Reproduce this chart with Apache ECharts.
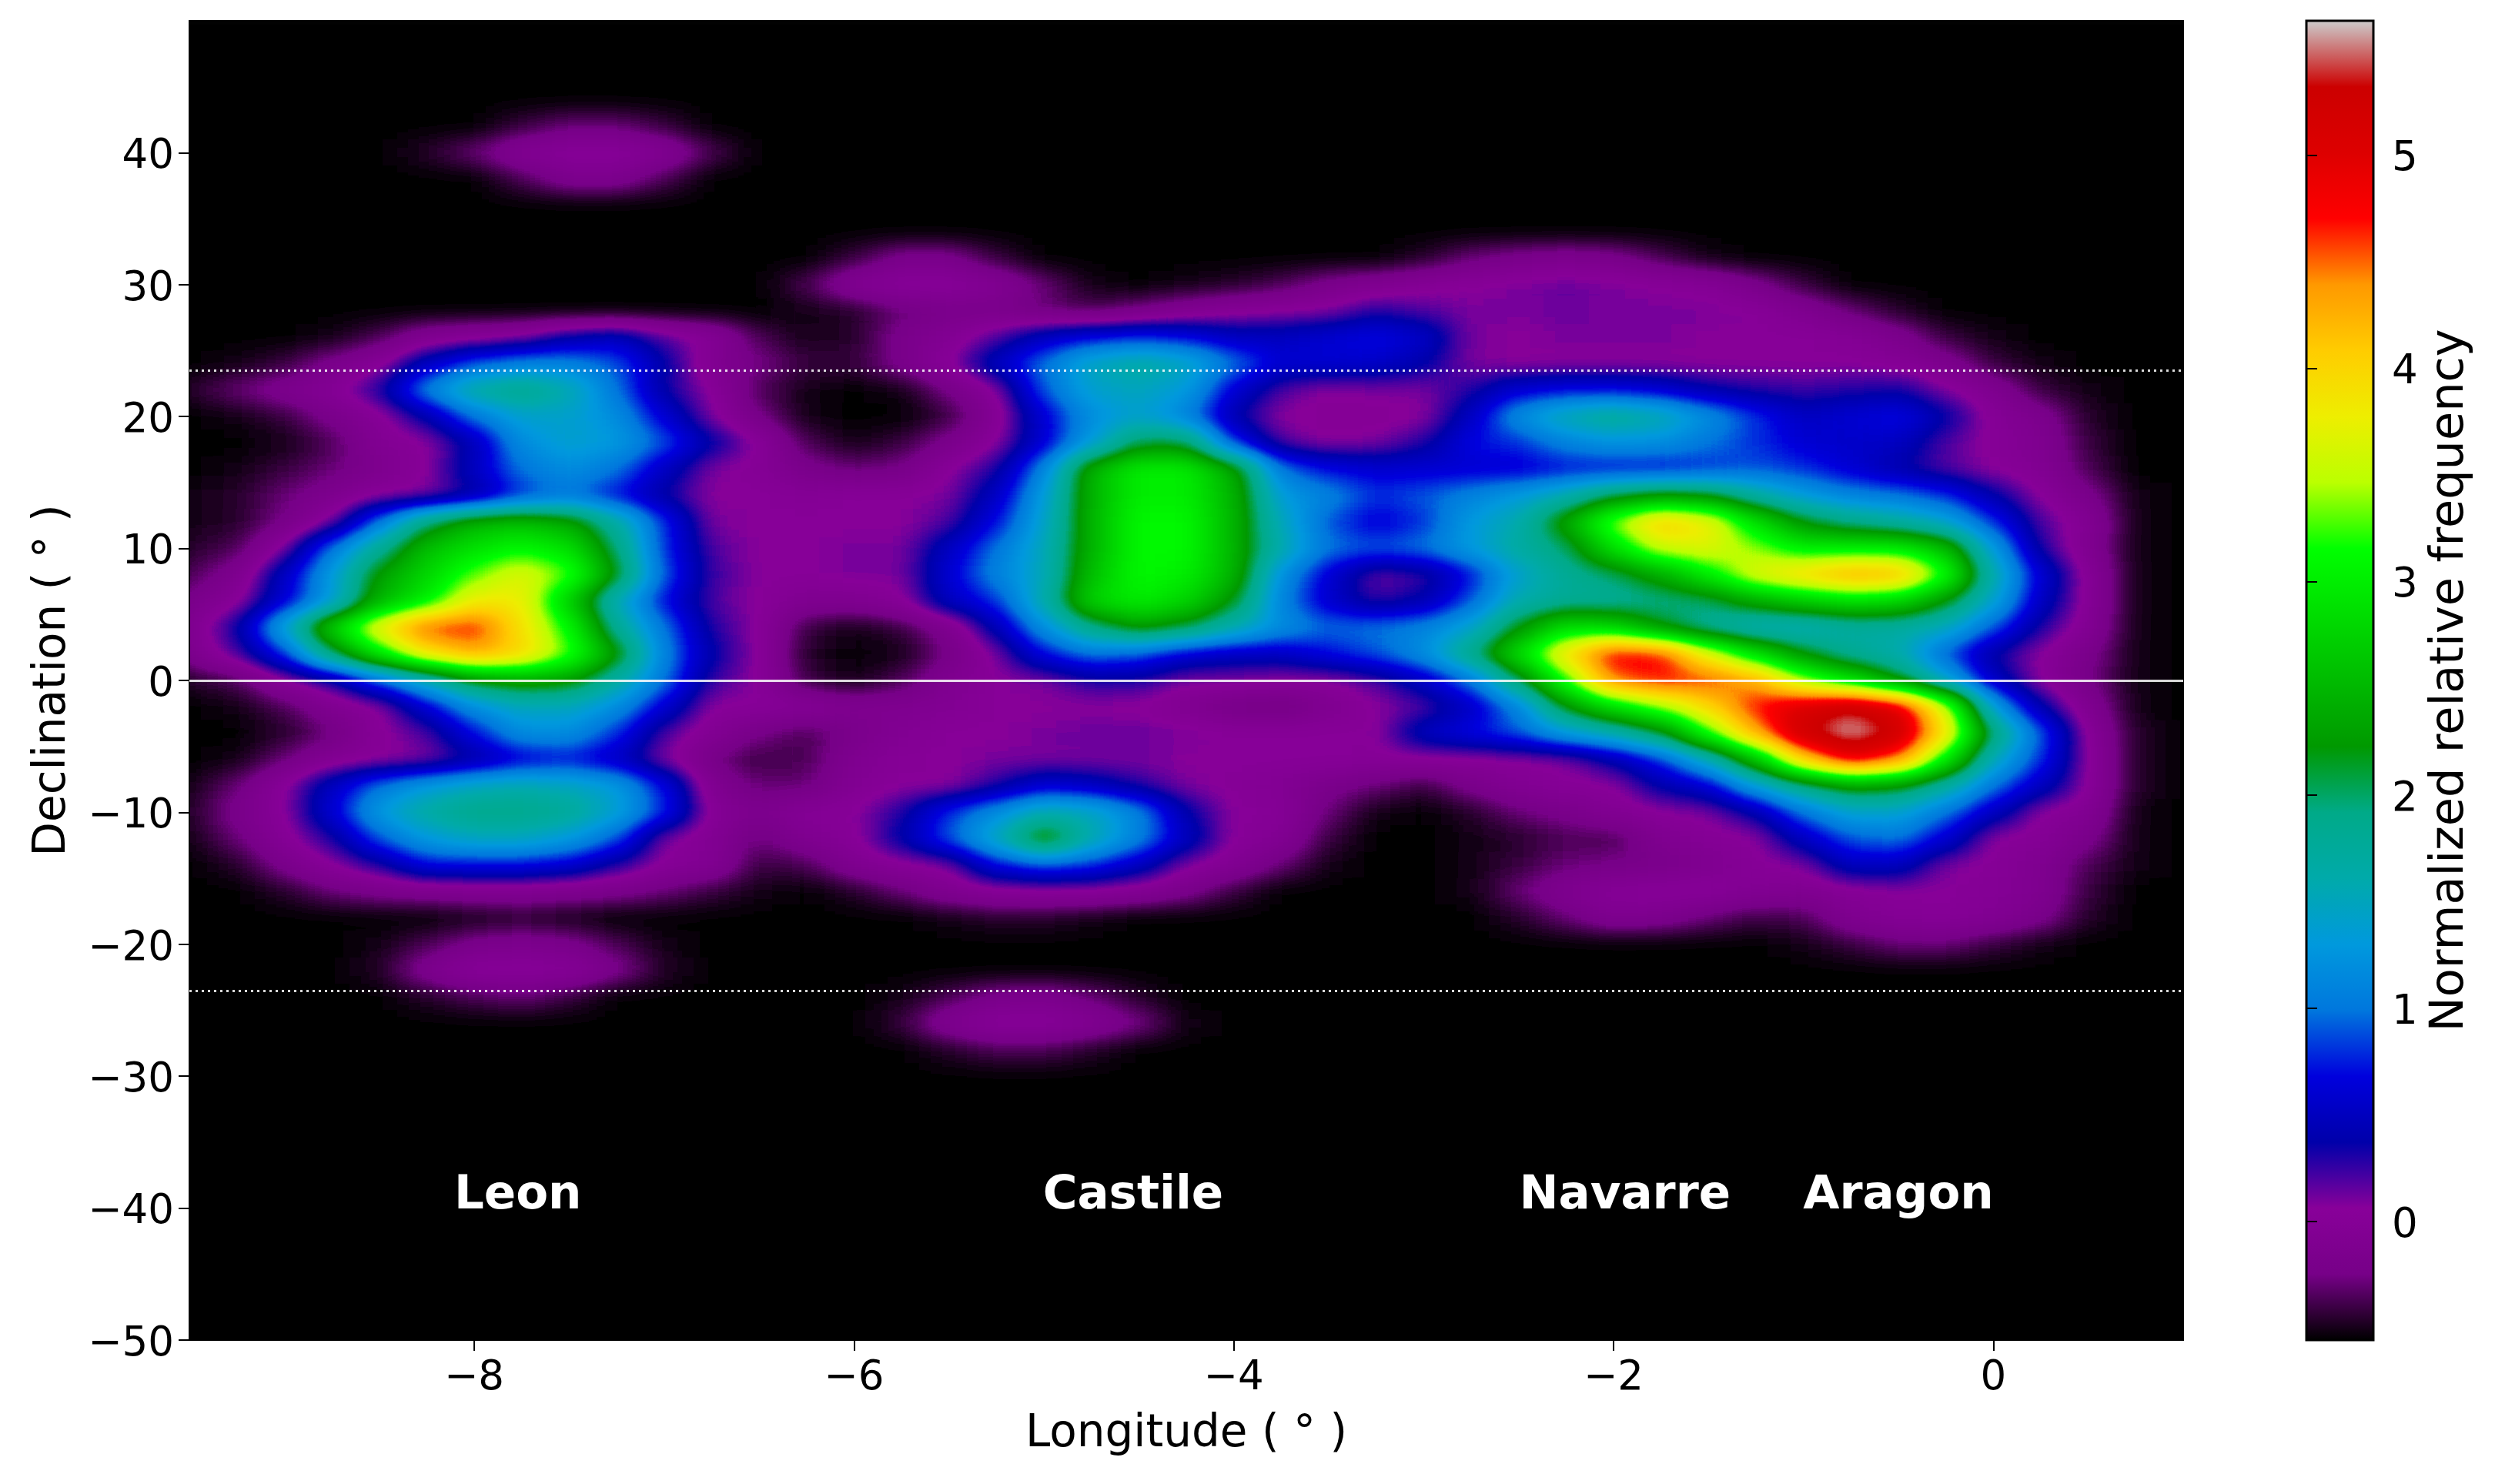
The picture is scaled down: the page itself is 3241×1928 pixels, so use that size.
<!DOCTYPE html>
<html>
<head>
<meta charset="utf-8">
<script src="https://cdn.jsdelivr.net/npm/echarts@6/dist/echarts.min.js"></script>
<style>
html,body{margin:0;padding:0;background:#fff}
#main{width:3241px;height:1928px}
</style>
</head>
<body>
<div id="main"></div>
<script>
// values, black background = k
var k = -0.556;
var lons = [-9.5,-9.25,-9,-8.75,-8.5,-8.25,-8,-7.75,-7.5,-7.25,-7,-6.75,-6.5,-6.25,-6,-5.75,-5.5,-5.25,-5,-4.75,-4.5,-4.25,-4,-3.75,-3.5,-3.25,-3,-2.75,-2.5,-2.25,-2,-1.75,-1.5,-1.25,-1,-0.75,-0.5,-0.25,0,0.25,0.5,0.75];
var decs = [42,40,38,36,34,32,30,28,26,24,22,20,18,16,14,12,10,8,6,4,2,0,-2,-4,-6,-8,-10,-12,-14,-16,-18,-20,-22,-24,-26,-28];
var freq = [
[k,k,k,k,k,k,k,-.4,-.3,-.3,  -.4,k,k,k,k,k,k,k,k,k,  k,k,k,k,k,k,k,k,k,k,  k,k,k,k,k,k,k,k,k,k,k,k],
[k,k,k,k,k,-.45,-.3,-.05,.05,.05,  -.05,-.35,k,k,k,k,k,k,k,k,  k,k,k,k,k,k,k,k,k,k,  k,k,k,k,k,k,k,k,k,k,k,k],
[k,k,k,k,k,k,k,-.35,-.15,-.15,  -.35,k,k,k,k,k,k,k,k,k,  k,k,k,k,k,k,k,k,k,k,  k,k,k,k,k,k,k,k,k,k,k,k],
[k,k,k,k,k,k,k,k,k,k,  k,k,k,k,k,k,k,k,k,k,  k,k,k,k,k,k,k,k,k,k,  k,k,k,k,k,k,k,k,k,k,k,k],
[k,k,k,k,k,k,k,k,k,k,  k,k,k,k,k,k,k,k,k,k,  k,k,k,k,k,k,k,k,k,k,  k,k,k,k,k,k,k,k,k,k,k,k],
[k,k,k,k,k,k,k,k,k,k,  k,k,k,k,-.4,-.2,-.2,-.4,k,k,  k,k,k,k,k,k,-.45,-.3,-.2,-.15,  -.2,-.35,-.5,k,k,k,k,k,k,k,k,k],
[k,k,k,k,k,k,k,k,k,k,  k,k,k,-.35,-.05,.05,.05,-.05,-.3,-.5,  k,-.5,-.45,-.35,-.2,-.1,0,.05,.1,.15,  .1,.05,0,-.2,-.4,k,k,k,k,k,k,k],
[k,k,k,k,k,k,k,k,k,k,  k,k,k,-.5,-.45,-.3,-.2,-.2,-.3,-.35,  -.25,-.1,0,.05,.1,.3,.2,.1,.1,.12,  .1,.1,.1,.05,-.1,-.3,-.45,k,k,k,k,k],
[k,k,k,-.5,-.35,-.1,0,.1,.4,.5,  .2,0,-.35,-.5,-.45,-.2,-.05,.2,.5,.7,  .8,.7,.5,.5,.6,.7,.55,.1,.05,.1,  .1,.1,.05,.05,.05,0,-.15,-.4,-.5,k,k,k],
[k,-.5,-.4,-.2,0,.5,.9,1.1,1.1,.9,  .4,-.1,-.25,-.4,-.4,-.2,.05,.5,1,1.5,  1.7,1.5,1,.6,.6,.55,.4,.1,.05,.05,  .05,.05,.05,.05,.05,.05,0,-.15,-.4,-.5,k,k],
[-.45,-.3,-.15,0,.3,1.1,1.7,1.9,1.6,1,  .35,.05,-.35,-.5,k,-.5,-.25,.05,.9,1.4,  1.5,1.3,.6,.2,.05,.1,.1,.3,.6,.7,  .7,.6,.4,.3,.25,.3,.35,.1,-.1,-.4,-.5,k],
[k,-.5,-.4,-.2,0,.4,1,1.4,1.4,1.2,  .6,.1,-.25,-.5,k,k,-.4,-.05,.6,1.2,  1.4,1.1,.4,.05,0,0,.05,.5,1.2,1.6,  1.8,1.6,1.2,.8,.5,.6,.7,.4,0,-.15,-.45,k],
[k,k,-.5,-.35,-.05,.05,.45,1.2,1.4,1.3,  .9,.4,.05,-.35,-.5,-.4,-.2,.05,.6,1.3,  2.1,2.1,.8,.2,.05,.1,.3,.7,.8,1.1,  1.25,1.2,1,.8,.6,.55,.5,.2,.02,-.1,-.4,k],
[k,-.5,-.4,-.3,-.15,.05,.5,1,1.2,1,  .5,.1,0,-.2,-.3,-.25,.05,.3,1.1,2.5,  3,3,2.4,1,.7,.6,.6,.6,.6,.7,  .7,.7,.8,.9,.8,.6,.4,.2,.05,-.05,-.35,k],
[-.5,-.45,-.3,-.15,.05,.1,.35,.8,1,.7,  .35,.05,.05,0,.05,.05,.1,.5,1.3,2.5,  3,3,2.5,1.3,1.1,.8,.9,1.1,1.3,1.6,  2.1,2.3,2.2,1.7,1.3,1.1,1,.8,.4,.05,-.2,-.5],
[-.5,-.45,-.25,.1,1,2,2.5,2.6,2.4,1.7,  .8,.1,.05,.05,.05,.05,.2,.7,1.4,2.5,  3.1,3.1,2.5,1.5,.9,.6,.8,1.3,1.6,2.4,  3.4,4.1,3.8,2.9,2.2,1.9,1.7,1.4,.8,.2,-.05,-.5],
[-.45,-.35,.1,1,1.8,2.6,2.9,3.1,2.9,2,  .8,.2,.05,.05,.1,.1,.5,1,1.5,2.5,  3.1,3.1,2.5,1.6,1,.9,1,1.3,1.7,2,  2.9,3.6,3.7,3.4,3,3,3,2.6,1.3,.3,-.1,-.5],
[-.35,-.15,.5,1.3,2.3,2.8,3.3,3.7,3.3,2.2,  .9,.25,.05,.05,.1,.1,.6,1.1,1.5,2.6,  3.1,3,2.5,1.2,.6,.15,.25,.7,1.4,1.8,  2,2.4,3,3.7,4,4.3,4.2,3.2,1.6,.6,0,-.5],
[-.2,0,.6,1.3,2.5,3,3.8,3.8,2.7,1.5,  .7,.2,.05,-.1,-.1,.02,.5,.8,1.6,2.8,  3,2.8,2.2,1.1,.55,.25,.4,.9,1.6,1.8,  1.8,1.9,2,2.4,2.7,2.9,2.8,2.2,1.4,.5,0,-.5],
[-.1,.35,1.4,2.8,3.8,4.6,4.7,3.9,3.1,1.8,  1,.3,.05,-.4,-.5,-.4,-.15,.45,1.2,1.9,  2.3,2.1,1.6,1.2,.95,1,1.1,1.4,2.2,2.9,  2.8,2.2,1.8,1.5,1.5,1.7,1.7,1.5,.9,.3,-.05,-.5],
[-.15,.2,.8,2,3,3.9,4.3,4,3.3,2.3,  1.1,.4,.05,-.45,k,-.5,-.25,.1,.7,1,  .9,.6,.5,.5,.7,.9,1.2,1.9,2.9,3.9,  4.8,4.7,3.7,2.9,2.2,1.8,1.6,.9,.35,.05,-.2,-.5],
[-.45,-.35,.02,.3,.9,1.5,2.2,2.4,2.3,1.7,  1,.25,.05,-.4,-.5,-.35,-.1,.05,.1,.3,  .3,.1,.1,.05,.05,.2,.5,1,2,3.2,  4.5,4.7,4.6,4.3,3.4,2.9,2.2,1.4,.5,.05,-.25,-.5],
[k,-.5,-.35,-.1,.05,.6,1.2,1.5,1.5,1.2,  .6,.05,.05,0,-.1,-.1,-.05,.05,.05,.05,  .02,-.1,-.25,-.3,-.1,.05,.2,.5,1.1,2.2,  2.9,3.4,4,4.7,5.1,5.35,5,3.6,1.3,.4,-.1,-.5],
[k,k,-.45,-.3,.02,.2,.7,1.2,1.2,.8,  .2,-.05,-.25,-.35,-.2,-.05,.05,.05,.1,.15,  .15,.1,.05,.05,.05,.05,.5,.7,.9,1.3,  1.6,2.1,3.2,4.3,5.3,5.63,5.3,3.9,2,.9,.02,-.45],
[k,-.5,-.3,-.05,.02,.1,.35,.6,.7,.5,  .1,-.25,-.4,-.35,-.1,.02,.05,.1,.1,.1,  .1,.05,.05,.05,.05,.02,.02,.02,.05,.1,  .4,.8,1.5,2.6,4.1,4.9,4.5,3,1.5,.8,.05,-.45],
[-.5,-.3,.05,.5,1,1.3,1.5,1.6,1.5,1.3,  .7,-.1,-.3,-.3,-.05,.05,.05,.3,.6,.5,  .3,.1,.02,-.05,-.2,-.3,-.4,-.2,-.05,.02,  .05,.4,.6,1.3,1.9,2.3,2.2,1.7,1,.5,.05,-.45],
[-.45,-.2,.05,.6,1.3,1.7,1.9,1.9,1.8,1.4,  .8,0,-.15,0,.05,.3,.8,1.2,1.6,1.5,  1.1,.4,.05,.02,-.3,-.5,k,-.45,-.3,-.2,  -.05,.05,.1,.4,1,1.4,1.4,1,.5,.05,-.05,-.5],
[-.5,-.3,0,.3,.9,1.3,1.5,1.5,1.3,.9,  .1,-.05,-.3,-.1,.02,.4,.9,1.5,2.4,1.6,  1.1,.5,.05,-.05,-.4,k,k,-.5,-.45,-.35,  -.35,-.1,0,.05,.5,.9,1,.6,.05,0,-.2,-.5],
[k,-.45,-.2,.05,.3,.7,.7,.7,.6,.3,  .02,-.05,-.4,-.35,-.1,.02,.1,.7,.9,.8,  .5,.1,-.05,-.3,-.5,k,k,-.5,-.4,-.3,  -.25,-.2,-.1,.02,.1,.5,.5,.1,.02,-.1,-.35,-.5],
[k,k,-.45,-.3,-.2,-.15,-.1,-.1,-.15,-.2,  -.3,-.4,-.5,k,-.45,-.3,-.1,0,.02,.02,  -.05,-.2,-.4,k,k,k,k,-.5,-.3,-.1,  .02,.05,.05,-.05,-.1,0,.05,.05,0,-.1,-.4,k],
[k,k,k,k,k,k,-.5,-.45,-.5,k,  k,k,k,k,k,k,-.5,-.45,-.45,-.5,  k,k,k,k,k,k,k,k,-.45,-.3,  -.1,-.15,-.3,-.4,-.35,-.1,0,.02,-.05,-.2,-.45,k],
[k,k,k,k,-.5,-.35,-.2,-.15,-.2,-.35,  -.5,k,k,k,k,k,k,k,k,k,  k,k,k,k,k,k,k,k,k,k,  k,k,k,k,-.5,-.4,-.3,-.3,-.4,-.5,k,k],
[k,k,k,k,-.45,-.15,.05,.05,.02,-.2,  -.45,k,k,k,k,k,k,k,k,k,  k,k,k,k,k,k,k,k,k,k,  k,k,k,k,k,k,k,k,k,k,k,k],
[k,k,k,k,k,-.45,-.35,-.3,-.4,k,  k,k,k,k,k,-.5,-.35,-.2,-.15,-.3,  -.45,k,k,k,k,k,k,k,k,k,  k,k,k,k,k,k,k,k,k,k,k,k],
[k,k,k,k,k,k,k,k,k,k,  k,k,k,k,k,-.4,-.1,.05,.05,-.05,  -.25,-.5,k,k,k,k,k,k,k,k,  k,k,k,k,k,k,k,k,k,k,k,k],
[k,k,k,k,k,k,k,k,k,k,  k,k,k,k,k,k,-.45,-.35,-.35,-.45,  k,k,k,k,k,k,k,k,k,k,  k,k,k,k,k,k,k,k,k,k,k,k]
];
var regionNames = ['Leon','Castile','Navarre','Aragon'];
var regionLons = [-7.77,-4.53,-1.94,-0.5];
var regionDec = -39.1;
var tropics = [23.5,-23.5];
var xTicks = [-8,-6,-4,-2,0];
var yTicks = [-50,-40,-30,-20,-10,0,10,20,30,40];
var barTicks = [0,1,2,3,4,5];
var barMin = -0.556, barMax = 5.63;
// nipy_spectral stops
var palette = ['#000000','#770088','#880099','#0000aa','#0000dd','#0077dd','#0099dd','#00aaaa','#00aa88','#009900','#00bb00','#00dd00','#00ff00','#bbff00','#eeee00','#ffcc00','#ff9900','#ff0000','#dd0000','#cc0000','#cccccc'];

var plot = {left:246, right:2836, top:27, bottom:1741};
var pxLon = (plot.right-plot.left)/10.5, pxDec = (plot.bottom-plot.top)/100;
var font = 'DejaVu Sans';
function minus(v){ return String(v).replace('-','\u2212'); }
function lowered(v){ return '{t|'+minus(v)+'}'; }
var lowerRich = {t:{fontSize:53,color:'#000',fontFamily:font,padding:[12,0,0,0]}};

// the field is drawn in grey through the category bands, then blurred and colour mapped by the svg filter
function table(ch){
    return palette.map(function(c){ return (parseInt(c.substr(ch,2),16)/255).toFixed(3); }).join(' ');
}
document.body.insertAdjacentHTML('beforeend',
    '<svg width="0" height="0" style="position:absolute"><filter id="field" x="0" y="0" width="100%" height="100%" color-interpolation-filters="sRGB">'
    +'<feFlood flood-color="#000" result="bg"/><feMerge result="m"><feMergeNode in="bg"/><feMergeNode in="SourceGraphic"/></feMerge>'
    +'<feGaussianBlur in="m" stdDeviation="24 14"/>'
    +'<feComponentTransfer><feFuncR type="table" tableValues="'+table(1)+'"/><feFuncG type="table" tableValues="'+table(3)+'"/><feFuncB type="table" tableValues="'+table(5)+'"/></feComponentTransfer>'
    +'</filter></svg>');

var cells = [];
decs.forEach(function(d,j){ lons.forEach(function(l,i){ cells.push([i,j,freq[j][i]]); }); });

var chart = echarts.init(document.getElementById('main'), null, {renderer:'canvas'});
var option = {
    animation:false,
    textStyle:{fontFamily:font},
    grid:[
        {left:plot.left-0.125*pxLon, width:lons.length*0.25*pxLon, top:plot.top+7*pxDec, height:decs.length*2*pxDec, zlevel:0},
        {left:plot.left, width:plot.right-plot.left, top:plot.top, height:plot.bottom-plot.top, show:true, borderColor:'#000', borderWidth:2, backgroundColor:'transparent', zlevel:1},
        {left:2996, width:87, top:27, height:1714, show:true, borderColor:'#000', borderWidth:3, backgroundColor:'transparent', zlevel:1}
    ],
    xAxis:[
        {type:'category', gridIndex:0, data:lons, show:false},
        {type:'value', gridIndex:1, min:-9.5, max:1, zlevel:1, splitLine:{show:false},
            axisLine:{show:true,onZero:false,lineStyle:{color:'#000',width:2}},
            axisTick:{show:true,length:14,lineStyle:{color:'#000',width:2},customValues:xTicks},
            axisLabel:{fontSize:53,color:'#000',margin:24,fontFamily:font,formatter:minus,customValues:xTicks},
            name:'Longitude ( \u00b0 )',nameLocation:'middle',nameGap:94,nameTextStyle:{fontSize:58,color:'#000',fontFamily:font}},
        {type:'value', gridIndex:2, min:0, max:1, show:false}
    ],
    yAxis:[
        {type:'category', gridIndex:0, data:decs, inverse:true, show:false},
        {type:'value', gridIndex:1, min:-50, max:50, zlevel:1, splitLine:{show:false},
            axisLine:{show:true,onZero:false,lineStyle:{color:'#000',width:2}},
            axisTick:{show:true,length:14,lineStyle:{color:'#000',width:2},customValues:yTicks},
            axisLabel:{color:'#000',margin:20,fontFamily:font,formatter:lowered,rich:lowerRich,customValues:yTicks},
            name:'Declination ( \u00b0 )',nameLocation:'middle',nameGap:148,nameTextStyle:{fontSize:58,color:'#000',fontFamily:font}},
        {type:'value', gridIndex:2, position:'right', min:barMin, max:barMax, zlevel:1, splitLine:{show:false},
            axisLine:{show:false},
            axisTick:{show:true,length:14,lineStyle:{color:'#000',width:2},customValues:barTicks},
            axisLabel:{color:'#000',margin:24,fontFamily:font,formatter:lowered,rich:lowerRich,customValues:barTicks},
            name:'Normalized relative frequency',nameLocation:'middle',nameRotate:90,nameGap:70,nameTextStyle:{fontSize:60.5,color:'#000',fontFamily:font}}
    ],
    visualMap:[
        {type:'continuous', seriesIndex:0, min:barMin, max:barMax, show:false, inRange:{color:['#000000','#ffffff']}},
        {type:'continuous', seriesIndex:2, min:barMin, max:barMax, show:true, calculable:false, realtime:false, text:null, showLabel:false,
            left:2996, top:27, itemWidth:87, itemHeight:1714, padding:0, zlevel:0.5, inRange:{color:palette}, textStyle:{fontSize:1,color:'transparent'}}
    ],
    series:[
        {type:'heatmap', xAxisIndex:0, yAxisIndex:0, data:cells, zlevel:0, silent:true, progressive:0, itemStyle:{borderWidth:0}, emphasis:{disabled:true}},
        {type:'scatter', xAxisIndex:1, yAxisIndex:1, zlevel:1, silent:true, symbolSize:0, itemStyle:{opacity:1},
            data:regionNames.map(function(n,i){ return {name:n,value:[regionLons[i],regionDec]}; }),
            label:{show:true,position:'inside',formatter:'{b}',color:'#fff',fontWeight:'bold',fontSize:61,fontFamily:font},
            markLine:{silent:true,symbol:'none',animation:false,zlevel:1,label:{show:false},
                data:[
                    {yAxis:0,lineStyle:{color:'#fff',width:3,type:'solid',opacity:0.85}},
                    {yAxis:tropics[0],lineStyle:{color:'#fff',width:3,type:[3,5],opacity:0.85}},
                    {yAxis:tropics[1],lineStyle:{color:'#fff',width:3,type:[3,5],opacity:0.85}}
                ]}},
        {type:'scatter', xAxisIndex:2, yAxisIndex:2, data:[], zlevel:1, silent:true}
    ]
};
chart.setOption(option);

var field = chart.getDom().querySelector('canvas');
field.style.filter = 'url(#field)';
field.style.clipPath = 'inset('+plot.top+'px '+(3241-plot.right)+'px '+(1928-plot.bottom)+'px '+plot.left+'px)';
</script>
</body>
</html>
